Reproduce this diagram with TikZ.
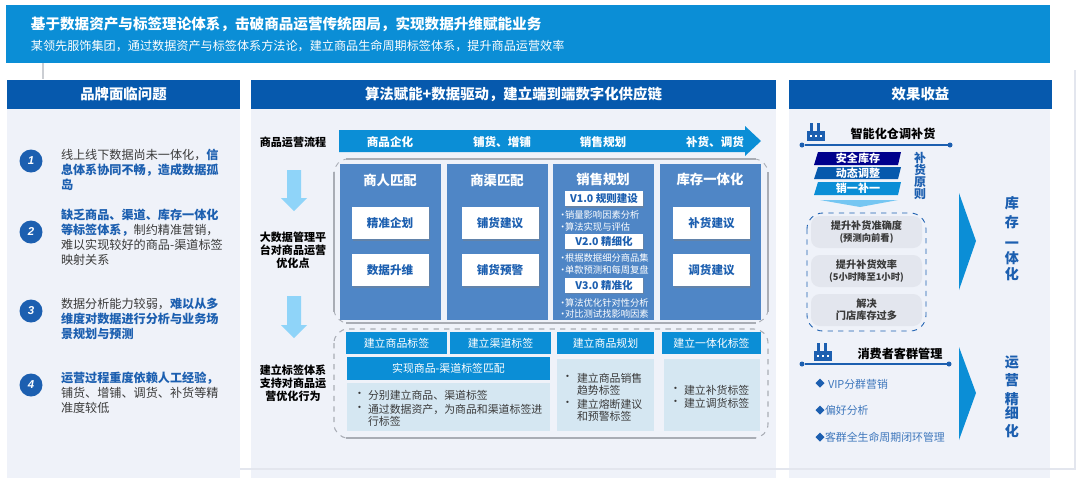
\documentclass[tikz,border=0pt]{standalone}
\usepackage{fontspec}
\setmainfont{Noto Sans CJK SC}
\newfontfamily\numfont{Liberation Sans}
\usetikzlibrary{shapes.geometric,shadows}

\definecolor{bannerblue}{HTML}{0B8ED6}
\definecolor{headblue}{HTML}{0659AD}
\definecolor{panelgray}{HTML}{EFF2F9}
\definecolor{colblue}{HTML}{4F86C6}
\definecolor{inkblue}{HTML}{1C5FB0}
\definecolor{paleblue}{HTML}{D5E7F2}
\definecolor{arrowblue}{HTML}{8FD4F9}
\definecolor{softgray}{HTML}{E3E6EE}
\definecolor{edgegray}{HTML}{A9ADB5}
\definecolor{textgray}{HTML}{3A3A3A}

\newcommand{\fs}[2]{\fontsize{#1}{#2}\selectfont}
\newcommand{\bul}{\makebox[0.14cm][l]{•}}

\begin{document}
\begin{tikzpicture}[
    x=0.02cm, y=-0.02cm,
    every node/.style={inner sep=0pt, outer sep=0pt},
    wh/.style 2 args={minimum width=#1*0.02cm, minimum height=#2*0.02cm},
    headbox/.style={fill=headblue, text=white, font=\fs{8.2}{10}\bfseries, wh={1}{29}},
    numdot/.style={circle, fill=inkblue, text=white, minimum size=23*0.02cm, font=\numfont\fs{6.5}{8}\bfseries\itshape},
    issue/.style={anchor=west, align=left, text=textgray, font=\fs{6.9}{8.6}},
    sidelabel/.style={align=center, text=black, font=\fs{6.3}{7.5}\bfseries},
    flowlabel/.style={text=white, font=\fs{6.6}{8}\bfseries},
    coltitle/.style={text=white, font=\fs{7.6}{9}\bfseries},
    colbox/.style={fill=colblue, wh={101}{156}},
    whitebox/.style={fill=white, text=inkblue, wh={77}{32}, font=\fs{6.6}{8}\bfseries,
        drop shadow={shadow xshift=0.02cm, shadow yshift=-0.03cm, opacity=.4}},
    verbox/.style={fill=white, text=inkblue, wh={78}{15}, font=\fs{6}{7}\bfseries,
        drop shadow={shadow xshift=0.02cm, shadow yshift=-0.03cm, opacity=.4}},
    tagbox/.style={fill=bannerblue, text=white, wh={101}{22}, font=\fs{6.2}{8}},
    lightbox/.style={fill=paleblue},
    bullets/.style={anchor=west, align=left, text=textgray, font=\fs{6.2}{6.9}},
    smalltext/.style={anchor=west, text=white, font=\fs{5.3}{6.5}},
    softbox/.style={fill=softgray, rounded corners=5pt, align=center, text=textgray, wh={111}{32}, font=\fs{5.8}{6.9}\bfseries},
    effect/.style={text=inkblue, font=\fs{8}{9}\bfseries},
    blueline/.style={draw=inkblue, line width=0.7pt},
    enddot/.style={circle, fill=inkblue, minimum size=5*0.02cm},
    gem/.style={diamond, fill=inkblue, minimum size=9*0.02cm},
    gemtext/.style={anchor=west, text=inkblue!85!white, font=\fs{6.2}{8}}
]
    \useasboundingbox (0,0) rectangle (1080,485);

    % --- BANNER ---
    \draw[edgegray!60, line width=0.6pt] (43,63) -- (43,79);
    \node[fill=bannerblue, wh={1044}{58}, anchor=north west] (banner) at (6,5) {};
    \node[anchor=west, text=white, font=\fs{8.3}{10}\bfseries] (bannertitle) at (31,24)
        {基于数据资产与标签理论体系，击破商品运营传统困局，实现数据升维赋能业务};
    \node[anchor=west, text=white, font=\fs{6.9}{8}] (bannersub) at (31,46)
        {某领先服饰集团，通过数据资产与标签体系方法论，建立商品生命周期标签体系，提升商品运营效率};

    % --- LEFT PANEL ---
    \node[fill=panelgray, wh={233}{370}, anchor=north west] (leftpanel) at (7,108) {};
    \node[headbox, wh={233}{29}] (lefthead) at (123.5,94) {品牌面临问题};

    \node[numdot] (num1) at (31,161) {1};
    \node[numdot] (num2) at (31,232) {2};
    \node[numdot] (num3) at (31,311) {3};
    \node[numdot] (num4) at (31,385) {4};

    \node[issue] (issue1) at (61,170) {线上线下数据尚未一体化，\textcolor{inkblue}{\textbf{信}}\\
        \textcolor{inkblue}{\textbf{息体系协同不畅，造成数据孤}}\\
        \textcolor{inkblue}{\textbf{岛}}};
    \node[issue] (issue2) at (61,237.5) {\textcolor{inkblue}{\textbf{缺乏商品、渠道、库存一体化}}\\
        \textcolor{inkblue}{\textbf{等标签体系，}}制约精准营销，\\
        难以实现较好的商品-渠道标签\\
        映射关系};
    \node[issue] (issue3) at (61,319) {数据分析能力较弱，\textcolor{inkblue}{\textbf{难以从多}}\\
        \textcolor{inkblue}{\textbf{维度对数据进行分析与业务场}}\\
        \textcolor{inkblue}{\textbf{景规划与预测}}};
    \node[issue] (issue4) at (61,393) {\textcolor{inkblue}{\textbf{运营过程重度依赖人工经验，}}\\
        铺货、增铺、调货、补货等精\\
        准度较低};

    % --- MIDDLE PANEL ---
    \node[fill=panelgray, wh={525}{370}, anchor=north west] (midpanel) at (251,108) {};
    \node[headbox, wh={525}{29}] (midhead) at (513.5,94) {算法赋能+数据驱动，建立端到端数字化供应链};

    \node[sidelabel] (flowname) at (293,142) {商品运营流程};
    \node[sidelabel] (bigdata) at (293,250) {大数据管理平\\台对商品运营\\优化点};
    \node[sidelabel] (tagsys) at (293,383) {建立标签体系\\支持对商品运\\营优化行为};

    % Down arrows
    \fill[arrowblue] (287,170) -- (301,170) -- (301,198) -- (307,198) -- (294,211) -- (281,198) -- (287,198) -- cycle;
    \fill[arrowblue] (287,296) -- (301,296) -- (301,325) -- (307,325) -- (294,338) -- (281,325) -- (287,325) -- cycle;

    % Process arrow
    \fill[bannerblue] (339,130) -- (745,130) -- (745,126) -- (761,141) -- (745,156) -- (745,152) -- (339,152) -- cycle;
    \node[flowlabel] (flow1) at (390,142) {商品企化};
    \node[flowlabel] (flow2) at (502,142) {铺货、增铺};
    \node[flowlabel] (flow3) at (603,142) {销售规划};
    \node[flowlabel] (flow4) at (715,142) {补货、调货};

    % Upper frame
    \draw[edgegray, dashed, line width=0.5pt, rounded corners=8pt] (334,159) rectangle (768,323);
    \draw[edgegray, line width=1pt] (334,172) -- (334,312);
    \draw[edgegray, line width=1pt] (768,172) -- (768,312);
    \draw[edgegray, line width=0.7pt] (346,159) -- (756,159);
    \draw[edgegray, line width=0.7pt] (346,323) -- (756,323);

    \node[colbox, anchor=north west] (col1) at (340,164) {};
    \node[colbox, anchor=north west] (col2) at (447,164) {};
    \node[colbox, anchor=north west] (col3) at (553,164) {};
    \node[colbox, anchor=north west] (col4) at (660,164) {};

    \node[coltitle] (title1) at (390,180) {商人匹配};
    \node[coltitle] (title2) at (497,180) {商渠匹配};
    \node[coltitle] (title3) at (603,179) {销售规划};
    \node[coltitle] (title4) at (710,179) {库存一体化};

    \node[whitebox] (plan) at (390,223) {精准企划};
    \node[whitebox] (upgrade) at (390,270) {数据升维};
    \node[whitebox] (advise) at (500,223) {铺货建议};
    \node[whitebox] (warn) at (500,270) {铺货预警};
    \node[whitebox] (refill) at (711.5,223) {补货建议};
    \node[whitebox] (transfer) at (711.5,270) {调货建议};

    \node[verbox] (ver1) at (604,198.5) {V1.0 规则建设};
    \node[verbox] (ver2) at (604,241.5) {V2.0 精细化};
    \node[verbox] (ver3) at (604,285) {V3.0 精准化};

    \node[smalltext] (note1) at (558,215) {\bul 销量影响因素分析};
    \node[smalltext] (note2) at (558,227) {\bul 算法实现与评估};
    \node[smalltext] (note3) at (558,258) {\bul 根据数据细分商品集};
    \node[smalltext] (note4) at (558,270) {\bul 单款预测和每周复盘};
    \node[smalltext] (note5) at (558,303) {\bul 算法优化针对性分析};
    \node[smalltext] (note6) at (558,314) {\bul 对比测试找影响因素};

    % Lower frame
    \draw[edgegray, dashed, line width=0.6pt, rounded corners=8pt] (334,329) rectangle (768,438);
    \draw[edgegray, line width=0.8pt] (346,438) -- (756,438);

    \node[tagbox] (tag1) at (396.5,343) {建立商品标签};
    \node[tagbox] (tag2) at (500.5,343) {建立渠道标签};
    \node[tagbox, wh={203}{23}] (tagmatch) at (448.5,368.5) {实现商品-渠道标签匹配};
    \node[tagbox, wh={97}{22}] (tag3) at (605.5,343) {建立商品规划};
    \node[tagbox, wh={99}{22}] (tag4) at (711.5,343) {建立一体化标签};

    \node[lightbox, wh={203}{48}, anchor=north west] (light1) at (347,383) {};
    \node[lightbox, wh={97}{72}, anchor=north west] (light2) at (557,359) {};
    \node[lightbox, wh={96}{72}, anchor=north west] (light3) at (664,359) {};

    \node[anchor=west, text=textgray, font=\fs{6.2}{7}] (dot1) at (354,395) {•};
    \node[anchor=west, text=textgray, font=\fs{6.2}{7}] (dot2) at (354,409) {•};
    \node[bullets] (text1) at (368,395) {分别建立商品、渠道标签};
    \node[bullets] (text2) at (368,415.5) {通过数据资产，为商品和渠道标签进\\行标签};

    \node[anchor=west, text=textgray, font=\fs{6.2}{7}] (dot3) at (562,378) {•};
    \node[anchor=west, text=textgray, font=\fs{6.2}{7}] (dot4) at (562,404) {•};
    \node[bullets] (text3) at (577,384) {建立商品销售\\趋势标签};
    \node[bullets] (text4) at (577,410) {建立熔断建议\\和预警标签};

    \node[anchor=west, text=textgray, font=\fs{6.2}{7}] (dot5) at (670,390) {•};
    \node[anchor=west, text=textgray, font=\fs{6.2}{7}] (dot6) at (670,403) {•};
    \node[bullets] (text5) at (684,390) {建立补货标签};
    \node[bullets] (text6) at (684,403) {建立调货标签};

    % --- RIGHT PANEL ---
    \node[fill=panelgray, wh={261}{370}, anchor=north west] (rightpanel) at (789,108) {};
    \node[headbox, wh={263}{29}] (righthead) at (920.5,94) {效果收益};

    % Factory icons
    \foreach \ix/\iy in {807/123, 814/343} {
        \begin{scope}[shift={(\ix,\iy)}]
            \fill[inkblue] (0,8) -- (18,8) -- (18,18) -- (0,18) -- cycle;
            \fill[inkblue] (3,0) rectangle (6,8);
            \fill[inkblue] (10,0) rectangle (13,8);
            \fill[white] (3,12) rectangle (5,14);
            \fill[white] (8,12) rectangle (10,14);
            \fill[white] (13,12) rectangle (15,14);
        \end{scope}
    }

    % Smart refill
    \node[text=black, font=\fs{6.9}{8}\bfseries] (smartname) at (893,134) {智能化仓调补货};
    \node[enddot] (lineA) at (802,145) {};
    \node[enddot] (lineB) at (950,145) {};
    \draw[blueline] (lineA) -- (lineB);

    \fill[blue!55!black] (818,152) -- (901,152) -- (898,165) -- (814,165) -- cycle;
    \fill[headblue] (818,167) -- (901,167) -- (898,179) -- (814,179) -- cycle;
    \fill[bannerblue] (818,182) -- (901,182) -- (898,195) -- (814,195) -- cycle;
    \node[text=white, font=\fs{6.3}{7}\bfseries] (rule1) at (858,158.5) {安全库存};
    \node[text=white, font=\fs{6.3}{7}\bfseries] (rule2) at (858,173) {动态调整};
    \node[text=white, font=\fs{6.3}{7}\bfseries] (rule3) at (858,188.5) {销一补一};
    \fill[arrowblue!80!bannerblue] (820,200) -- (898,200) -- (860,207) -- cycle;
    \node[align=center, text=inkblue, font=\fs{6.8}{6.9}\bfseries] (rulename) at (920,176) {补\\货\\原\\则};

    \draw[inkblue, dashed, line width=0.5pt, rounded corners=9pt] (807,213) rectangle (926,331);
    \node[softbox] (gain1) at (866.5,232) {提升补货准确度\\{\fs{5.3}{6.9}(预测向前看)}};
    \node[softbox] (gain2) at (866.5,271) {提升补货效率\\{\fs{5.3}{6.9}(5小时降至1小时)}};
    \node[softbox] (gain3) at (866.5,310) {解决\\门店库存过多};

    \fill[bannerblue] (959,193) -- (976,241) -- (959,290) -- cycle;
    \node[effect] (e1) at (1012,203) {库};
    \node[effect] (e2) at (1012,222) {存};
    \node[effect] (e3) at (1012,245) {一};
    \node[effect] (e4) at (1012,258) {体};
    \node[effect] (e5) at (1012,274) {化};

    % Consumer groups
    \node[text=black, font=\fs{6.9}{8}\bfseries] (groupname) at (900,354) {消费者客群管理};
    \node[enddot] (lineC) at (802,364) {};
    \node[enddot] (lineD) at (949,364) {};
    \draw[blueline] (lineC) -- (lineD);

    \node[gem] (gem1) at (820,383) {};
    \node[gem] (gem2) at (820,410) {};
    \node[gem] (gem3) at (820,437) {};
    \node[gemtext] (vip) at (828,384) {VIP分群营销};
    \node[gemtext] (pref) at (825,410) {偏好分析};
    \node[gemtext] (life) at (825,437) {客群全生命周期闭环管理};

    \fill[bannerblue] (959,347) -- (976,393) -- (959,440) -- cycle;
    \node[effect] (f1) at (1012,362) {运};
    \node[effect] (f2) at (1012,380) {营};
    \node[effect] (f3) at (1012,399) {精};
    \node[effect] (f4) at (1012,413) {细};
    \node[effect] (f5) at (1012,431) {化};

    % --- FAINT RULE OVER THE PANELS ---
    \draw[softgray, line width=0.6pt] (240,469) -- (1075,469) -- (1075,70);

\end{tikzpicture}
\end{document}
